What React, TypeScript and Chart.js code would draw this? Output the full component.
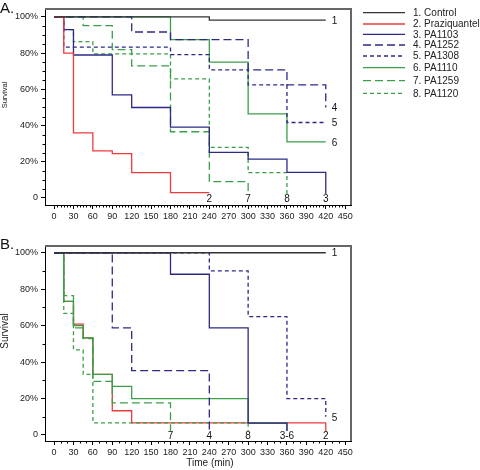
import React, { useEffect, useRef } from 'react';
import { Chart, registerables } from 'chart.js';

Chart.register(...registerables);

const FONT = "'Liberation Sans', Arial, Helvetica, sans-serif";

// ---- series definitions ----
const seriesNames = ['1. Control', '2. Praziquantel', '3. PA1103', '4. PA1252', '5. PA1308', '6. PA1110', '7. PA1259', '8. PA1120'];
const seriesColors = ['#333333', '#ee3b3b', '#2d2a86', '#2d2a86', '#2d2a86', '#3b9f4a', '#3b9f4a', '#3b9f4a'];
const seriesDash = [[], [], [], [8, 4], [4, 3], [], [8, 4], [4, 3]];

const xTickValues = [0, 30, 60, 90, 120, 150, 180, 210, 240, 270, 300, 330, 360, 390, 420, 450];
const yTickValues = [0, 20, 40, 60, 80, 100];

// ---- Panel A: [time (min), survival %] ----
const A_control = [[0, 100], [240, 98.3], [420, 98.3]];
const A_praziquantel = [[0, 100], [15, 80], [30, 36], [60, 26], [90, 24.5], [120, 14], [180, 3], [240, 3]];
const A_pa1103 = [[0, 100], [15, 93], [30, 79], [90, 57], [120, 50], [180, 39.2], [240, 25.2], [300, 21.5], [360, 14.2], [420, 0]];
const A_pa1252 = [[0, 100], [120, 91.7], [180, 87.5], [300, 70.8], [360, 62.5], [420, 50]];
const A_pa1308 = [[0, 100], [15, 83.3], [180, 79.2], [240, 70.8], [300, 62.5], [360, 41.7], [420, 41.7]];
const A_pa1110 = [[0, 100], [180, 87.5], [240, 75], [300, 46.5], [360, 31], [420, 31]];
const A_pa1259 = [[0, 100], [45, 95.2], [90, 82], [120, 73], [180, 36.6], [240, 9], [300, 0]];
const A_pa1120 = [[0, 100], [15, 93], [30, 86.4], [60, 79.6], [180, 65.8], [240, 28], [300, 14], [360, 0]];

const A_sideLabelText = ['1', '4', '5', '6'];
const A_sideLabelSeries = [0, 3, 4, 5];
const A_bottomLabelText = ['2', '7', '8', '3'];
const A_bottomLabelTime = [240, 300, 360, 420];

// ---- Panel B ----
const B_control = [[0, 100], [420, 100]];
const B_praziquantel = [[0, 100], [15, 73.3], [30, 60.8], [45, 53.3], [60, 33.3], [90, 13.3], [120, 6.7], [420, 0]];
const B_pa1103 = [[0, 100], [180, 88.2], [240, 58.8], [300, 6.5], [360, 0]];
const B_pa1252 = [[0, 100], [90, 58.8], [120, 35.3], [240, 0]];
const B_pa1308 = [[0, 100], [240, 90], [300, 65], [360, 20], [420, 10]];
const B_pa1110 = [[0, 100], [15, 73.3], [30, 60], [45, 53.3], [60, 33.3], [90, 26.7], [120, 20], [300, 6.7], [360, 0]];
const B_pa1259 = [[0, 100], [15, 76.5], [30, 58.8], [45, 52.9], [60, 29.4], [90, 17.6], [180, 0]];
const B_pa1120 = [[0, 100], [15, 66.7], [30, 46.7], [45, 33.3], [60, 6.7], [300, 0]];

const B_sideLabelText = ['1', '5'];
const B_sideLabelSeries = [0, 4];
const B_bottomLabelText = ['7', '4', '8', '3-6', '2'];
const B_bottomLabelTime = [180, 240, 300, 360, 420];

const legendRowY = [12.7, 24, 34.3, 45, 56, 67.7, 80.7, 93.3];

function toXY(s: number[][]) {
  return s.map(([x, y]) => ({ x, y }));
}

function makeChart(canvas: HTMLCanvasElement, cfg: any) {
  const annot = {
    id: 'annot',
    afterDraw(chart: any) {
      const ctx = chart.ctx;
      const a = chart.chartArea;
      const xs = chart.scales.x;
      const ys = chart.scales.y;
      ctx.save();
      // frame top/right
      ctx.strokeStyle = '#666';
      ctx.lineWidth = 2;
      ctx.setLineDash([]);
      ctx.beginPath();
      ctx.moveTo(a.left, a.top);
      ctx.lineTo(a.right, a.top);
      ctx.lineTo(a.right, a.bottom);
      ctx.stroke();
      // minor ticks
      ctx.strokeStyle = '#000';
      ctx.lineWidth = 1;
      ctx.beginPath();
      for (let v = 0; v <= 450; v += cfg.minorX) {
        if (v % 30 === 0) continue;
        const px = Math.round(xs.getPixelForValue(v)) + 0.5;
        ctx.moveTo(px, a.bottom);
        ctx.lineTo(px, a.bottom + 2.5);
      }
      for (let v = 0; v <= 100; v += cfg.minorY) {
        if (v % 20 === 0) continue;
        const py = Math.round(ys.getPixelForValue(v)) + 0.5;
        ctx.moveTo(a.left - 2.5, py);
        ctx.lineTo(a.left, py);
      }
      ctx.stroke();

      // side labels
      ctx.fillStyle = '#111';
      ctx.font = `10px ${FONT}`;
      ctx.textBaseline = 'middle';
      ctx.textAlign = 'left';
      cfg.sideText.forEach((t: string, i: number) => {
        const s = cfg.series[cfg.sideSeries[i]];
        const last = s[s.length - 1];
        ctx.fillText(t, xs.getPixelForValue(last[0]) + 6, ys.getPixelForValue(last[1]) + 1);
      });
      // bottom labels
      ctx.textAlign = 'center';
      cfg.bottomText.forEach((t: string, i: number) => {
        const px = xs.getPixelForValue(cfg.bottomTime[i]);
        const py = ys.getPixelForValue(0) + 1;
        const w = ctx.measureText(t).width;
        ctx.fillStyle = '#fff';
        ctx.fillRect(px - w / 2 - 1, py - 5, w + 2, 10);
        ctx.fillStyle = '#111';
        ctx.fillText(t, px, py);
      });

      // legend
      if (cfg.legend) {
        chart.data.datasets.forEach((ds: any, i: number) => {
          const y = legendRowY[i];
          ctx.strokeStyle = ds.borderColor;
          ctx.lineWidth = 1.3;
          ctx.setLineDash(ds.borderDash || []);
          ctx.beginPath();
          ctx.moveTo(363, y);
          ctx.lineTo(405, y);
          ctx.stroke();
          ctx.setLineDash([]);
          ctx.fillStyle = '#222';
          ctx.textAlign = 'left';
          ctx.textBaseline = 'middle';
          ctx.font = `10px ${FONT}`;
          ctx.fillText(ds.label, 413, y + 0.5);
        });
      }

      // panel label
      ctx.fillStyle = '#111';
      ctx.textAlign = 'left';
      ctx.textBaseline = 'alphabetic';
      ctx.font = `15px ${FONT}`;
      ctx.fillText(cfg.panelLabel, 0, cfg.panelLabelY);

      // y title
      ctx.save();
      ctx.translate(cfg.survX, cfg.survY);
      ctx.rotate(-Math.PI / 2);
      ctx.textAlign = 'center';
      ctx.textBaseline = 'middle';
      ctx.font = `${cfg.survSize}px ${FONT}`;
      ctx.fillStyle = '#222';
      ctx.fillText('Survival', 0, 0);
      ctx.restore();

      if (cfg.timeTitle) {
        ctx.textAlign = 'center';
        ctx.textBaseline = 'middle';
        ctx.font = `10px ${FONT}`;
        ctx.fillStyle = '#222';
        ctx.fillText('Time (min)', 210, cfg.timeY);
      }
      ctx.restore();
    },
  };

  const gridOpts = {
    display: true,
    drawOnChartArea: false,
    drawTicks: true,
    tickLength: 4,
    color: '#000',
    tickColor: '#000',
    tickWidth: 1,
  };

  return new Chart(canvas, {
    type: 'line',
    data: {
      datasets: cfg.series.map((s: number[][], i: number) => ({
        label: seriesNames[i],
        data: toXY(s),
        borderColor: seriesColors[i],
        backgroundColor: seriesColors[i],
        borderDash: seriesDash[i],
        borderWidth: 1.3,
        pointRadius: 0,
        pointHoverRadius: 0,
        stepped: true,
        fill: false,
        order: cfg.orders ? cfg.orders[i] : 0,
      })),
    },
    options: {
      animation: false,
      responsive: false,
      devicePixelRatio: 1,
      layout: { padding: { left: 0, top: cfg.padTop, right: 129, bottom: 0 } },
      plugins: { legend: { display: false }, tooltip: { enabled: false }, title: { display: false } },
      scales: {
        x: {
          type: 'linear',
          min: -14,
          max: 459,
          afterBuildTicks: (s: any) => {
            s.ticks = xTickValues.map((v) => ({ value: v }));
          },
          afterFit: (s: any) => {
            s.height = cfg.axisH;
          },
          grid: gridOpts,
          border: { display: true, color: '#000', width: 1 },
          ticks: {
            font: { family: FONT, size: 9 },
            color: '#222',
            padding: 2,
            maxRotation: 0,
            autoSkip: false,
          },
        },
        y: {
          type: 'linear',
          min: cfg.yMin,
          max: cfg.yMax,
          afterBuildTicks: (s: any) => {
            s.ticks = yTickValues.map((v) => ({ value: v }));
          },
          afterFit: (s: any) => {
            s.width = 45;
          },
          grid: gridOpts,
          border: { display: true, color: '#000', width: 1 },
          ticks: {
            font: { family: FONT, size: 9 },
            color: '#222',
            padding: 3,
            autoSkip: false,
            callback: (v: any) => (v === 0 ? '0' : v + '%'),
          },
        },
      },
    },
    plugins: [annot],
  } as any);
}

export default function App() {
  const refA = useRef<HTMLCanvasElement>(null);
  const refB = useRef<HTMLCanvasElement>(null);

  useEffect(() => {
    const seriesA = [A_control, A_praziquantel, A_pa1103, A_pa1252, A_pa1308, A_pa1110, A_pa1259, A_pa1120];
    const seriesB = [B_control, B_praziquantel, B_pa1103, B_pa1252, B_pa1308, B_pa1110, B_pa1259, B_pa1120];
    const cA = makeChart(refA.current!, {
      series: seriesA,
      padTop: 9,
      axisH: 30,
      yMin: -3.87,
      yMax: 104.4,
      minorX: 5,
      minorY: 5,
      sideText: A_sideLabelText,
      sideSeries: A_sideLabelSeries,
      bottomText: A_bottomLabelText,
      bottomTime: A_bottomLabelTime,
      legend: true,
      panelLabel: 'A.',
      panelLabelY: 12.5,
      survX: 4.5,
      survY: 95,
      survSize: 7.5,
      timeTitle: false,
    });
    const cB = makeChart(refB.current!, {
      series: seriesB,
      orders: [0, 1, 0, 0, 0, 0, 0, 0],
      padTop: 11,
      axisH: 29,
      yMin: -3.3,
      yMax: 103.7,
      minorX: 10,
      minorY: 10,
      sideText: B_sideLabelText,
      sideSeries: B_sideLabelSeries,
      bottomText: B_bottomLabelText,
      bottomTime: B_bottomLabelTime,
      legend: false,
      panelLabel: 'B.',
      panelLabelY: 14.3,
      survX: 5.5,
      survY: 96,
      survSize: 10,
      timeTitle: true,
      timeY: 228,
    });
    return () => {
      cA.destroy();
      cB.destroy();
    };
  }, []);

  return (
    <div style={{ position: 'absolute', left: 0, top: 0, width: 480, height: 470, background: '#fff' }}>
      <canvas ref={refA} width={480} height={235} style={{ position: 'absolute', left: 0, top: 0, display: 'block' }} />
      <canvas ref={refB} width={480} height={235} style={{ position: 'absolute', left: 0, top: 235, display: 'block' }} />
    </div>
  );
}
